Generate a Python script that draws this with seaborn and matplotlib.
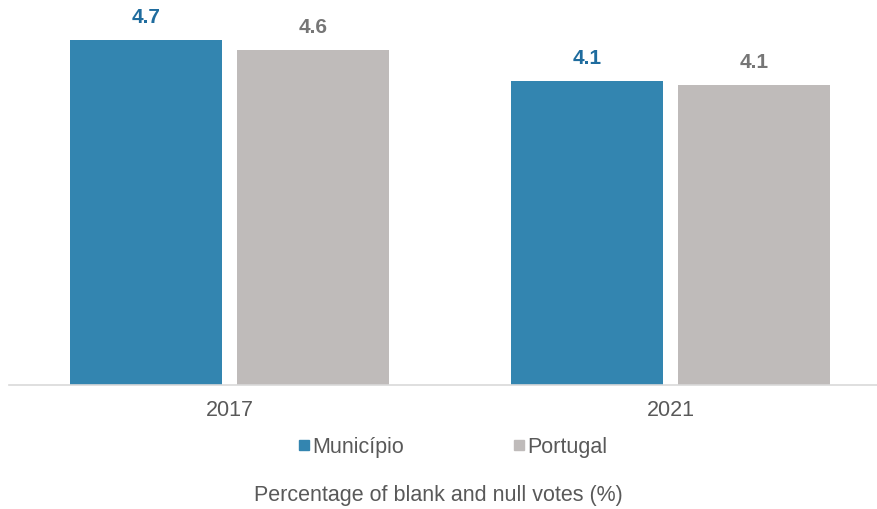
import pandas as pd
import matplotlib
matplotlib.use("Agg")
import matplotlib.pyplot as plt
from matplotlib.lines import Line2D
import seaborn as sns

years = ["2017", "2021"]
series = ["Município", "Portugal"]
municipio = [4.70, 4.14]
portugal = [4.56, 4.09]

bar_colors = ["#3385B0", "#BFBBBA"]
label_colors = ["#1F6C9E", "#767676"]

df = pd.DataFrame({
    "year": years * 2,
    "series": [series[0]] * 2 + [series[1]] * 2,
    "value": municipio + portugal,
})

sns.set_style("white")
plt.rcParams["font.family"] = ["Liberation Sans", "DejaVu Sans"]

fig = plt.figure(figsize=(8.77, 5.10), dpi=100)
ax = fig.add_axes([9 / 877, 124 / 510, 882 / 877, 386 / 510])

sns.barplot(
    data=df,
    x="year",
    y="value",
    hue="series",
    palette=bar_colors,
    width=0.757,
    gap=0.09,
    saturation=1,
    linewidth=0,
    legend=False,
    ax=ax,
)

# value labels above bars
for container, col in zip(ax.containers, label_colors):
    ax.bar_label(container, fmt="%.1f", padding=10, color=col,
                 fontweight="bold", fontsize=15)

ax.set_xlim(-0.5, 1.5)
ax.set_ylim(0, 5.26)
ax.set_xlabel("")
ax.set_ylabel("")
ax.set_yticks([])
ax.tick_params(axis="x", length=0, pad=10, labelsize=15.5, labelcolor="#595959")

for s in ["top", "right", "left"]:
    ax.spines[s].set_visible(False)
ax.spines["bottom"].set_color("#D9D9D9")
ax.spines["bottom"].set_linewidth(1.2)

# legend
handles = [
    Line2D([], [], marker="s", linestyle="", markersize=7.5, color=c)
    for c in bar_colors
]
fig.legend(
    handles, series, loc="center", bbox_to_anchor=(452.5 / 877, 1 - 448 / 510),
    ncol=2, frameon=False, fontsize=15.5, labelcolor="#595959",
    handlelength=0.6, handletextpad=0.1, columnspacing=5.05,
)

fig.text(438 / 877, 1 - 496 / 510, "Percentage of blank and null votes (%)",
         ha="center", va="center", fontsize=15.5, color="#595959")

fig.savefig("out.png", dpi=100)
